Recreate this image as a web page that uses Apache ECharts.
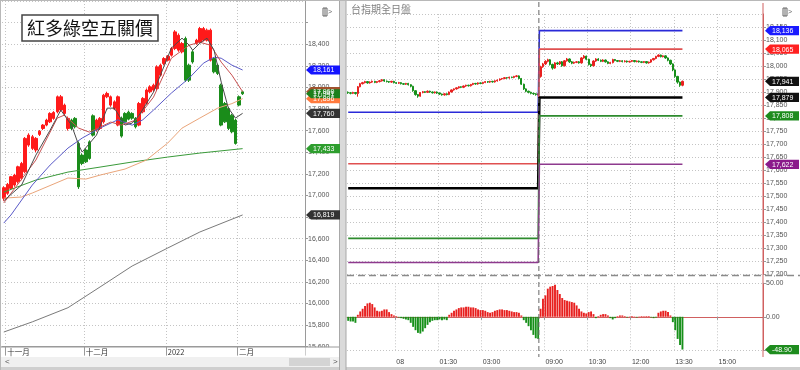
<!DOCTYPE html>
<html><head><meta charset="utf-8">
<script src="https://cdn.jsdelivr.net/npm/echarts@6/dist/echarts.min.js"></script>
<style>html,body{margin:0;padding:0;background:#fff;}#c{width:800px;height:370px;}</style>
</head><body><div id="c"></div>
<script>
// ---------------- LEFT PANEL (daily) ----------------
const leftSlotCount = 85;
const monthTickIdx = [1, 23, 46, 66];
const monthTickText = ['十一月', '十二月', '2022', '二月'];
// r = 紅多, g = 綠空
const leftTrend = 'rrrrrrrrrrrrrrrrrrr' + 'ggggggg' + 'rrrrrrr' + 'ggggg' + 'rrrrrrrrrrrrr' + 'ggg' + 'rrrrr' + 'ggggggggg';
// [open, close, low, high]
const leftBars = [
 [16973,17071,16950,17085],[17019,17102,17005,17115],[17065,17173,17050,17180],[17096,17188,17080,17200],
 [17126,17265,17110,17275],[17158,17296,17140,17310],[17219,17528,17205,17540],[17466,17558,17450,17575],
 [17435,17543,17420,17560],[17420,17528,17400,17540],[17565,17595,17550,17605],[17620,17651,17605,17660],
 [17651,17697,17640,17710],[17681,17759,17670,17770],[17713,17768,17700,17780],[17774,17913,17760,17925],
 [17790,17913,17775,17930],[17759,17836,17745,17850],[17620,17713,17600,17730],[17697,17620,17605,17710],
 [17713,17635,17620,17725],[17481,17080,17060,17500],[17373,17296,17280,17390],[17420,17311,17300,17435],
 [17496,17342,17330,17510],[17737,17558,17545,17750],[17605,17697,17590,17710],[17620,17713,17605,17725],
 [17681,17928,17665,17940],[17913,17944,17900,17960],[17836,17913,17820,17925],[17805,17866,17790,17880],
 [17651,17913,17640,17925],[17716,17549,17535,17730],[17759,17681,17670,17770],[17771,17706,17695,17785],
 [17759,17715,17700,17770],[17713,17635,17620,17725],[17651,17851,17640,17865],[17774,17898,17760,17910],
 [17851,17975,17840,17990],[17959,18005,17945,18020],[17975,18021,17960,18035],[17990,18190,17975,18205],
 [18113,18206,18100,18220],[18221,18267,18205,18280],[18252,18289,18240,18300],[18298,18360,18285,18375],
 [18360,18514,18345,18530],[18345,18483,18330,18500],[18329,18406,18315,18420],[18453,18067,18050,18470],
 [18206,18067,18050,18220],[18329,18236,18220,18345],[18406,18437,18395,18450],[18421,18545,18410,18560],
 [18437,18545,18425,18560],[18437,18530,18425,18545],[18252,18530,18240,18545],[18267,18144,18130,18280],
 [18206,18129,18115,18220],[18021,17651,17640,18035],[17851,17681,17670,17865],[17805,17620,17605,17820],
 [17743,17589,17575,17755],[17697,17481,17470,17710],[17913,17836,17825,17925],[17959,17941,17930,17970]
];
// moving-average style lines, [candle index, value]
const lineDark = [[0,16950],[5,17096],[9,17373],[13,17604],[16,17790],[19,17651],[21,17466],[22,17401],[26,17558],[29,17808],[31,17808],[34,17651],[36,17669],[38,17743],[42,17956],[47,18363],[50,18456],[52,18391],[53,18344],[55,18409],[57,18456],[59,18344],[61,18049],[63,17808],[65,17716],[67,17760]];
const lineRed = [[0,16930],[9,17327],[15,17716],[17,17743],[21,17623],[24,17586],[30,17679],[33,17651],[37,17697],[42,17910],[47,18270],[52,18391],[55,18418],[58,18391],[61,18234],[64,18113],[67,17960]];
const lineBlue = [[0,16744],[2,16818],[8,17096],[13,17281],[18,17438],[22,17531],[27,17623],[32,17700],[36,17650],[39,17700],[42,17790],[47,17947],[52,18086],[56,18224],[59,18280],[61,18270],[64,18206],[67,18161]];
const lineTan = [[0,16975],[5,16985],[8,17022],[18,17161],[23,17151],[27,17188],[34,17244],[40,17327],[46,17485],[50,17623],[55,17716],[60,17808],[64,17850],[67,17896]];
const lineGreen = [[0,17030],[3,17068],[9,17142],[18,17216],[27,17262],[36,17309],[46,17355],[55,17392],[67,17433]];
const lineGray = [[0,15735],[8,15829],[18,15960],[27,16152],[36,16346],[46,16513],[55,16661],[67,16819]];
const leftFlagValues = [17960, 17896, 17941, 18161, 17760, 17433, 16819];
const leftFlagColors = ['#a0522d', '#ff7a3d', '#1c801c', '#1414ff', '#333333', '#2e9e2e', '#333333'];

// ---------------- RIGHT PANEL (5-min, 全日盤) ----------------
const sessionStarts = ['22:20', '08:50', '13:50'];
const sessionCounts = [80, 60, 33];
const tickTimes = ['00:00', '01:30', '03:00', '09:00', '10:30', '12:00', '13:30', '15:00'];
const tickTexts = ['08', '01:30', '03:00', '09:00', '10:30', '12:00', '13:30', '15:00'];
const nightBars = [
 [17899,17897,17893,17902],[17897,17895,17891,17900],[17895,17898,17892,17901],[17898,17894,17890,17900],
 [17894,17920,17882,17923],[17920,17932,17918,17935],[17932,17936,17929,17939],[17936,17940,17933,17943],
 [17940,17935,17932,17942],[17935,17938,17932,17941],[17938,17941,17935,17944],[17941,17937,17934,17943],
 [17937,17940,17934,17942],[17940,17943,17937,17946],[17943,17947,17940,17950],[17947,17942,17939,17949],
 [17942,17940,17937,17944],[17940,17938,17935,17942],[17938,17941,17935,17943],[17941,17936,17933,17943],
 [17936,17934,17931,17938],[17934,17936,17931,17939],[17936,17932,17929,17938],[17932,17930,17927,17934],
 [17930,17933,17927,17935],[17933,17928,17925,17935],[17928,17922,17918,17930],[17922,17905,17901,17924],
 [17905,17890,17886,17907],[17890,17884,17878,17892],[17884,17898,17882,17900],[17898,17901,17895,17904],
 [17901,17899,17896,17903],[17899,17903,17896,17906],[17903,17900,17897,17905],[17900,17897,17894,17902],
 [17897,17900,17894,17902],[17900,17896,17893,17902],[17896,17892,17889,17898],[17892,17889,17886,17894],
 [17889,17893,17886,17895],[17893,17890,17887,17895],[17890,17900,17888,17902],[17900,17908,17898,17910],
 [17908,17912,17905,17914],[17912,17916,17909,17918],[17916,17920,17913,17922],[17920,17918,17915,17922],
 [17918,17923,17915,17925],[17923,17926,17920,17928],[17926,17924,17921,17928],[17924,17929,17921,17931],
 [17929,17933,17926,17935],[17933,17931,17928,17935],[17931,17935,17928,17937],[17935,17933,17930,17937],
 [17933,17937,17930,17939],[17937,17940,17934,17942],[17940,17938,17935,17942],[17938,17941,17935,17943],
 [17941,17939,17936,17943],[17939,17943,17936,17945],[17943,17946,17940,17948],[17946,17950,17943,17952],
 [17950,17952,17947,17954],[17952,17955,17949,17957],[17955,17954,17951,17957],[17954,17957,17951,17959],
 [17957,17956,17953,17959],[17956,17960,17953,17962],[17960,17962,17957,17965],[17962,17952,17949,17964],
 [17952,17930,17927,17954],[17930,17912,17908,17932],[17912,17903,17899,17914],[17903,17899,17895,17905],
 [17899,17895,17891,17901],[17895,17893,17889,17897],[17893,17890,17886,17895],[17890,17892,17887,17894]
];
const dayBars = [
 [17960,17997,17955,18001],[17997,18008,17993,18012],[18008,18018,18004,18022],[18018,18024,18014,18028],
 [18024,18006,18002,18027],[18006,17992,17986,18009],[17992,18012,17989,18015],[18012,18008,18004,18016],
 [18008,18016,18004,18019],[18016,18001,17997,18019],[18001,18020,17998,18023],[18020,18027,18017,18031],
 [18027,18016,18012,18029],[18016,18011,18007,18019],[18011,18014,18008,18017],[18014,18016,18011,18019],
 [18016,18012,18009,18019],[18012,18031,18009,18034],[18031,18038,18028,18042],[18038,18026,18022,18040],
 [18026,18006,18002,18028],[18006,18001,17996,18009],[18001,18019,17998,18022],[18019,18027,18016,18030],
 [18027,18022,18019,18030],[18022,18018,18015,18025],[18018,18023,18015,18026],[18023,18016,18013,18025],
 [18016,18010,18007,18018],[18010,18013,18007,18016],[18013,18025,18010,18028],[18025,18021,18018,18027],
 [18021,18018,18015,18023],[18018,18020,18015,18023],[18020,18017,18014,18022],[18017,18019,18014,18022],
 [18019,18016,18013,18021],[18016,18018,18013,18020],[18018,18021,18015,18023],[18021,18017,18014,18023],
 [18017,18019,18014,18021],[18019,18016,18013,18021],[18016,18014,18011,18018],[18014,18017,18011,18019],
 [18017,18012,18009,18019],[18012,18015,18009,18017],[18015,18024,18012,18026],[18024,18029,18021,18031],
 [18029,18037,18026,18039],[18037,18042,18034,18045],[18042,18036,18033,18044],[18036,18039,18033,18041],
 [18039,18031,18028,18041],[18031,18022,18018,18033],[18022,18008,18004,18024],[18008,17985,17980,18010],
 [17985,17960,17955,17987],[17960,17938,17932,17962],[17938,17926,17920,17940],[17926,17941,17922,17944]
];
const nightOsc = [-6,-7,-7,-9,3,8,12,16,20,21, 19,14,9,8,9,11,11,7,4,2, 1,-1,-2,-3,-4,-5,-9,-15,-20,-24,
 -25,-22,-17,-12,-8,-6,-5,-5,-4,-5, -4,-5,3,6,9,11,13,14,14,15, 15,14,14,13,11,10,10,9,7,6,
 7,9,10,11,11,10,10,9,8,7, 7,6,2,-5,-9,-14,-20,-27,-32,-33];
const dayOsc = [12,27,32,42,45,46,48,40,34,28, 25,24,23,22,21,17,12,8,6,5, 7,8,4,-2,1,3,4,4,2,-2,
 -4,-2,1,2,2,1,-1,0.5,1,0.5, -1,0.5,1,1,1,1,-1,-2,-1,6, 8,9,9,7,2,-8,-20,-33,-42,-48.9];
const levelNames = ['blue', 'red', 'black', 'green', 'purple'];
const nightLevels = [17822, 17624, 17530, 17337, 17244];
const dayLevels = [18136, 18065, 17879, 17808, 17622];
const levelColors = ['#2a2ad8', '#e05050', '#000000', '#2e8b2e', '#8e3a8e'];
const rightFlagValues = [18136, 18065, 17941, 17879, 17808, 17622];
const rightFlagColors = ['#1a1aff', '#ff2020', '#111111', '#111111', '#1e8c1e', '#8b1a8b'];
const oscFlagValue = -48.90;

// ---------------- build ----------------
const RED = '#ff1a1a', GREEN = '#1a8c1a';
function timeSeq(start, count) {
  const [h, m] = start.split(':').map(Number);
  const out = [];
  for (let k = 0; k < count; k++) {
    const t = (h * 60 + m + 5 * k) % 1440;
    out.push(String(Math.floor(t / 60)).padStart(2, '0') + ':' + String(t % 60).padStart(2, '0'));
  }
  return out;
}
let rightCats = [];
sessionStarts.forEach((s, i) => { rightCats = rightCats.concat(timeSeq(s, sessionCounts[i])); });
const leftCats = Array.from({length: leftSlotCount}, (_, i) => String(i));
const fmt = v => Number(v).toLocaleString('en-US');
const FONT = 'Liberation Sans, Arial, sans-serif';

const rightBars = nightBars.concat(dayBars);
const osc = nightOsc.concat(dayOsc);
const nN = nightBars.length, nD = dayBars.length;

const leftTickFn = (idx) => monthTickIdx.indexOf(idx) >= 0;
const rightTickFn = (idx, val) => tickTimes.indexOf(val) >= 0;
const dotted = {show: true, lineStyle: {color: '#c4c4c4', type: [1, 2], width: 1}};

const series = [];
series.push({
  type: 'candlestick', xAxisIndex: 0, yAxisIndex: 0, barWidth: 3,
  data: leftBars.map((b, i) => {
    const c = leftTrend[i] === 'r' ? RED : GREEN;
    return {value: b, itemStyle: {color: c, color0: c, borderColor: c, borderColor0: c, borderWidth: 1}};
  })
});
[[lineGray, '#7a7a7a'], [lineGreen, '#3a9a3a'], [lineTan, '#eaa57a'], [lineBlue, '#5a5ac8'], [lineRed, '#c85050'], [lineDark, '#4a4a4a']]
  .forEach(([d, col]) => series.push({type: 'line', xAxisIndex: 0, yAxisIndex: 0, data: d, symbol: 'none',
    lineStyle: {color: col, width: 1}, z: 3}));

series.push({
  type: 'candlestick', xAxisIndex: 1, yAxisIndex: 1, barWidth: 1.8,
  data: rightBars,
  itemStyle: {color: '#e8201f', color0: '#17901a', borderColor: '#e8201f', borderColor0: '#17901a', borderWidth: 1}
});
levelNames.forEach((name, k) => {
  const d = [];
  for (let i = 0; i < nN; i++) d.push(nightLevels[k]);
  for (let i = 0; i < nD; i++) d.push(dayLevels[k]);
  series.push({type: 'line', name: name, xAxisIndex: 1, yAxisIndex: 1, data: d, step: 'middle', symbol: 'none',
    lineStyle: {color: levelColors[k], width: name === 'black' ? 2.6 : 1.6}, z: 3});
});
series.push({
  type: 'bar', xAxisIndex: 2, yAxisIndex: 2, barWidth: 1.9,
  data: osc.map(v => ({value: v, itemStyle: {color: v >= 0 ? '#e8201f' : '#17901a'}}))
});

const option = {
  animation: false,
  backgroundColor: '#ffffff',
  grid: [
    {left: 2, top: 1, width: 303, height: 345.6, outerBoundsMode: 'none'},
    {left: 347, top: 14, width: 416, height: 260, outerBoundsMode: 'none'},
    {left: 347, top: 283.3, width: 416, height: 67, outerBoundsMode: 'none'}
  ],
  xAxis: [
    {type: 'category', gridIndex: 0, data: leftCats, boundaryGap: true,
      axisLine: {show: true, lineStyle: {color: '#9a9a9a'}},
      axisTick: {show: true, interval: leftTickFn, length: 9, lineStyle: {color: '#9a9a9a'}},
      axisLabel: {show: true, interval: leftTickFn, formatter: (v, idx) => monthTickText[monthTickIdx.indexOf(idx)] || '',
        align: 'left', fontSize: 7.5, color: '#333', margin: 2, fontFamily: 'Noto Sans CJK TC, sans-serif'},
      splitLine: Object.assign({interval: leftTickFn}, dotted)},
    {type: 'category', gridIndex: 1, data: rightCats, boundaryGap: true,
      axisLine: {show: false}, axisTick: {show: false}, axisLabel: {show: false},
      splitLine: Object.assign({interval: rightTickFn}, dotted)},
    {type: 'category', gridIndex: 2, data: rightCats, boundaryGap: true, offset: 6.7,
      axisLine: {show: true, lineStyle: {color: '#d06060', width: 1}},
      axisTick: {show: true, interval: rightTickFn, length: 3, lineStyle: {color: '#999'}},
      axisLabel: {show: true, interval: rightTickFn, formatter: v => tickTexts[tickTimes.indexOf(v)] || '',
        align: 'left', fontSize: 7, color: '#444', margin: 2, fontFamily: FONT},
      splitLine: Object.assign({interval: rightTickFn}, dotted)}
  ],
  yAxis: [
    {type: 'value', gridIndex: 0, position: 'right', min: 15600, max: 18800, interval: 200,
      axisLine: {show: true, lineStyle: {color: '#9a9a9a'}},
      axisTick: {show: true, length: 3, lineStyle: {color: '#9a9a9a'}},
      axisLabel: {formatter: v => (v >= 18600 ? '' : fmt(v)), fontSize: 7, color: '#555', margin: 3, fontFamily: FONT, showMaxLabel: false},
      splitLine: dotted},
    {type: 'value', gridIndex: 1, position: 'right', min: 17200, max: 18200, interval: 50,
      axisLine: {show: true, lineStyle: {color: '#d06060'}},
      axisTick: {show: true, length: 3, lineStyle: {color: '#999'}},
      axisLabel: {formatter: v => (v >= 18200 ? '' : fmt(v)), fontSize: 7, color: '#555', margin: 3, fontFamily: FONT, showMaxLabel: false},
      splitLine: dotted},
    {type: 'value', gridIndex: 2, position: 'right', min: -50, max: 50, interval: 50,
      axisLine: {show: true, lineStyle: {color: '#d06060'}},
      axisTick: {show: true, length: 3, lineStyle: {color: '#999'}},
      axisLabel: {formatter: v => v.toFixed(2), fontSize: 7, color: '#555', margin: 3, fontFamily: FONT},
      splitLine: dotted}
  ],
  series: series
};

const chart = echarts.init(document.getElementById('c'));
chart.setOption(option);

// ------------- decorations, flags -------------
const G = [];
function flag(x0, y, text, color) {
  const h = 4.6, w = 34;
  G.push({type: 'polygon', z: 100, shape: {points: [[x0, y], [x0 + 5, y - h], [x0 + w, y - h], [x0 + w, y + h], [x0 + 5, y + h]]},
    style: {fill: color}});
  G.push({type: 'text', z: 101, style: {text: text, x: x0 + 7, y: y + 0.5, fill: '#fff', font: '7px ' + FONT, textVerticalAlign: 'middle'}});
}
// panel frames
G.push({type: 'rect', z: 90, shape: {x: 305.5, y: 347.2, width: 34, height: 9}, style: {fill: '#fff'}});
G.push({type: 'line', z: 91, shape: {x1: 0, y1: 347, x2: 339, y2: 347}, style: {stroke: '#9a9a9a', lineWidth: 1}});
G.push({type: 'rect', z: 90, shape: {x: 0, y: 357, width: 339, height: 10}, style: {fill: '#f0f0f0'}});
G.push({type: 'rect', z: 91, shape: {x: 289, y: 358, width: 41, height: 8}, style: {fill: '#d4d4d4'}});
G.push({type: 'text', z: 92, style: {text: '<', x: 5, y: 362, fill: '#555', font: '8px ' + FONT, textVerticalAlign: 'middle'}});
G.push({type: 'text', z: 92, style: {text: '>', x: 333, y: 362, fill: '#555', font: '8px ' + FONT, textVerticalAlign: 'middle'}});
G.push({type: 'rect', z: 90, shape: {x: 0, y: 367, width: 800, height: 3}, style: {fill: '#cfcfcf'}});
G.push({type: 'rect', z: 90, shape: {x: 339, y: 0, width: 7, height: 370}, style: {fill: '#dadada'}});
G.push({type: 'line', z: 91, shape: {x1: 339.5, y1: 0, x2: 339.5, y2: 370}, style: {stroke: '#a8a8a8'}});
G.push({type: 'line', z: 91, shape: {x1: 346, y1: 0, x2: 346, y2: 370}, style: {stroke: '#a8a8a8'}});
G.push({type: 'line', z: 91, shape: {x1: 0, y1: 0.5, x2: 800, y2: 0.5}, style: {stroke: '#b8b8b8'}});
G.push({type: 'line', z: 91, shape: {x1: 0.5, y1: 0, x2: 0.5, y2: 370}, style: {stroke: '#b8b8b8'}});
// title box
G.push({type: 'rect', z: 95, shape: {x: 22, y: 15, width: 136, height: 26}, style: {fill: '#fff', stroke: '#444', lineWidth: 1.5}});
G.push({type: 'text', z: 96, style: {text: '紅多綠空五關價', x: 90, y: 28.5, fill: '#111', font: '18px "Noto Sans CJK TC"', textAlign: 'center', textVerticalAlign: 'middle'}});
// right title
G.push({type: 'text', z: 96, style: {text: '台指期全日盤', x: 351, y: 9.5, fill: '#808080', font: '10px "Noto Sans CJK TC"', textVerticalAlign: 'middle'}});
// icons
[[323, 12], [783, 12]].forEach(([ix, iy]) => {
  G.push({type: 'rect', z: 96, shape: {x: ix, y: iy - 4, width: 4, height: 8}, style: {fill: 'none', stroke: '#666', lineWidth: 1}});
  G.push({type: 'line', z: 96, shape: {x1: ix + 2, y1: iy - 4, x2: ix + 2, y2: iy + 4}, style: {stroke: '#666'}});
  G.push({type: 'text', z: 96, style: {text: '>', x: ix + 5, y: iy, fill: '#666', font: '7px ' + FONT, textVerticalAlign: 'middle'}});
});
// red right axis line continuous
G.push({type: 'line', z: 60, shape: {x1: 763, y1: 3, x2: 763, y2: 357}, style: {stroke: '#d06060', lineWidth: 1}});
// session break dashed vertical
const xA = chart.convertToPixel({xAxisIndex: 1}, nN - 1), xB = chart.convertToPixel({xAxisIndex: 1}, nN);
const xs = (xA + xB) / 2 - 0.5;
G.push({type: 'line', z: 61, shape: {x1: xs, y1: 2, x2: xs, y2: 357}, style: {stroke: '#666', lineWidth: 1, lineDash: [5, 3]}});
// horizontal separator
G.push({type: 'line', z: 61, shape: {x1: 347, y1: 275.5, x2: 800, y2: 275.5}, style: {stroke: '#8a8a8a', lineWidth: 1.4, lineDash: [7, 4]}});
// flags
leftFlagValues.forEach((v, i) => flag(306, chart.convertToPixel({yAxisIndex: 0}, v), fmt(v), leftFlagColors[i]));
rightFlagValues.forEach((v, i) => flag(765, chart.convertToPixel({yAxisIndex: 1}, v), fmt(v), rightFlagColors[i]));
flag(765, chart.convertToPixel({yAxisIndex: 2}, oscFlagValue), oscFlagValue.toFixed(2), '#1e8c1e');

chart.setOption({graphic: {elements: G}});
</script></body></html>
